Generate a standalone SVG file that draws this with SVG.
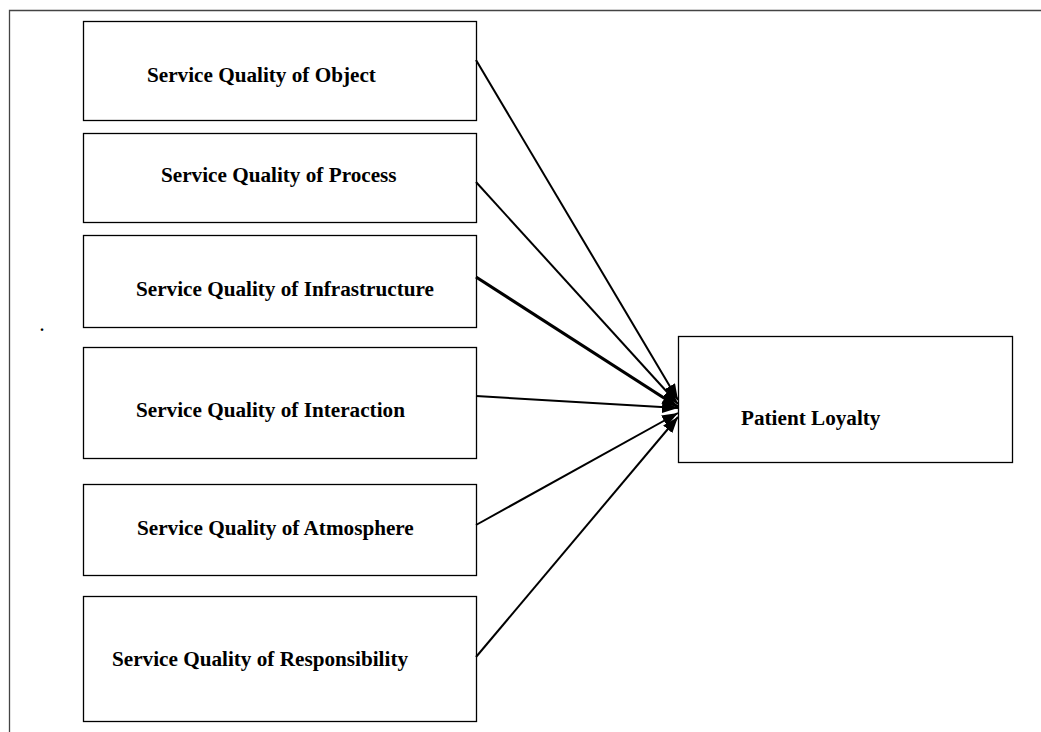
<svg xmlns="http://www.w3.org/2000/svg" width="1041" height="732" viewBox="0 0 1041 732">
<defs>
<marker id="ah" viewBox="0 0 16 12" refX="16" refY="6" markerWidth="16" markerHeight="12" orient="auto" markerUnits="userSpaceOnUse">
<path d="M0,0 L16,6 L0,12 Z" fill="#000"/>
</marker>
<style>
.box{fill:#fff;stroke:#000;stroke-width:1.3}
.t{font-family:"Liberation Serif","Times New Roman",serif;font-weight:bold;font-size:21.2px;fill:#000}
.c{stroke:#000;stroke-width:2;fill:none;marker-end:url(#ah)}
</style>
</defs>
<rect width="1041" height="732" fill="#fff"/>
<path d="M9.5,732 V10.5 H1041" fill="none" stroke="#444" stroke-width="1.3"/>
<text x="40" y="331" class="t" style="font-size:16px">.</text>
<g id="n1"><rect class="box" x="83.5" y="21.5" width="393" height="99"/><text class="t" x="147" y="82">Service Quality of Object</text></g>
<g id="n2"><rect class="box" x="83.5" y="133.5" width="393" height="89"/><text class="t" x="161" y="182">Service Quality of Process</text></g>
<g id="n3"><rect class="box" x="83.5" y="235.5" width="393" height="92"/><text class="t" x="136" y="296">Service Quality of Infrastructure</text></g>
<g id="n4"><rect class="box" x="83.5" y="347.5" width="393" height="111"/><text class="t" x="136" y="417">Service Quality of Interaction</text></g>
<g id="n5"><rect class="box" x="83.5" y="484.5" width="393" height="91"/><text class="t" x="137" y="535">Service Quality of Atmosphere</text></g>
<g id="n6"><rect class="box" x="83.5" y="596.5" width="393" height="125"/><text class="t" x="112" y="666">Service Quality of Responsibility</text></g>
<g id="n7"><rect class="box" x="678.5" y="336.5" width="334" height="126"/><text class="t" x="741" y="425">Patient Loyalty</text></g>
<g id="connectors">
<line class="c" x1="476" y1="60" x2="678" y2="400"/>
<line class="c" x1="476" y1="182" x2="678" y2="404"/>
<line class="c" x1="476" y1="277" x2="678" y2="407" style="stroke-width:3.2"/>
<line class="c" x1="476" y1="396" x2="678" y2="408"/>
<line class="c" x1="476" y1="525" x2="678" y2="413"/>
<line class="c" x1="476" y1="657" x2="678" y2="417"/>
</g>
</svg>
